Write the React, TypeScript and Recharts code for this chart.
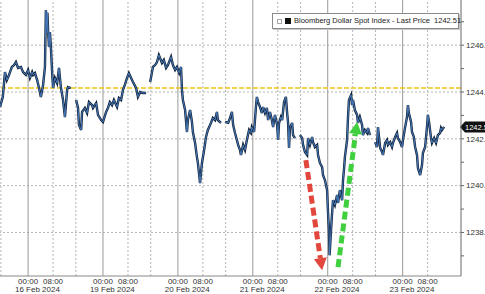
import { LineChart, Line, XAxis, YAxis, ReferenceLine, Legend } from "recharts"

// x = hours into the chart; every trading session is 24h wide and opens at 15:00 the day before
const hours = [
  0.0, 0.9, 1.6, 2.2, 2.9, 3.8, 4.5, 5.1, 5.8, 6.7, 7.4, 8.3, 9.0, 9.6, 10.3, 10.6, 11.2, 11.9, 12.5, 13.1,
  13.8, 14.4, 14.7, 15.1, 15.2, 15.4, 15.7, 16.0, 16.3, 16.7, 17.0, 17.6, 18.3, 18.9, 19.5, 20.2, 20.8, 21.5, 21.8, 22.7,
  23.5,
  24.4, 25.0, 25.3, 26.0, 26.3, 27.2, 27.9, 28.5, 29.5, 29.8, 30.8, 31.4, 32.4, 33.0, 34.0, 34.6, 35.2, 35.9, 36.5, 37.5,
  38.1, 38.8, 39.4, 40.0, 40.7, 41.3, 42.0, 42.6, 43.6, 44.2, 44.9, 45.8, 46.8,
  47.6,
  48.1, 48.7, 49.0, 49.7, 50.3, 50.9, 51.9, 52.5, 53.2, 53.8, 54.8, 55.4, 56.1, 56.7, 57.4, 58.0, 58.3, 58.6, 59.3, 59.9,
  60.2, 60.9, 61.5, 61.8, 62.5, 63.1, 63.4, 64.1, 64.7, 65.4, 66.0, 66.6, 67.6, 68.2, 68.9, 69.5, 69.8, 70.8,
  71.6,
  72.1, 73.1, 73.7, 74.3, 74.7, 75.3, 76.3, 76.9, 77.2, 77.9, 78.5, 79.1, 79.8, 80.4, 80.7, 81.4, 82.0, 82.3, 82.7, 83.3,
  83.9, 84.3, 84.9, 85.5, 85.9, 86.5, 87.1, 87.5, 88.1, 88.8, 89.1, 89.4, 90.0, 90.4, 91.0, 91.6, 92.0, 92.3, 92.6, 92.9,
  93.6, 93.9, 94.5,
  95.5,
  96.1, 96.8, 97.1, 97.7, 98.4, 98.7, 99.3, 100.0, 100.3, 100.9, 101.6, 101.9, 102.5, 103.2, 103.5, 104.1, 104.8, 105.1,
  105.4, 105.6, 106.1, 106.4, 106.7, 107.3, 108.0, 108.3, 108.9, 109.6, 109.9, 110.2, 110.5, 111.2, 111.5, 111.8, 112.5,
  112.8, 113.1, 113.7, 114.4, 114.7, 115.3, 116.0, 116.3, 116.9, 117.6, 117.9, 118.5,
  119.5,
  120.2, 120.8, 121.1, 121.8, 122.4, 122.7, 123.4, 124.0, 124.3, 125.0, 125.6, 125.9, 126.6, 127.2, 127.5, 128.2, 128.8,
  129.1, 129.8, 130.4, 130.7, 131.0, 131.7, 132.0, 132.6, 133.0, 133.6, 133.9, 134.6, 135.2, 135.5, 136.2, 136.8, 137.1,
  137.5, 138.1, 138.4, 139.1, 139.7, 140.3, 141.0, 141.3, 141.6, 142.3,
]

const prices = [
  1243.36, 1243.79, 1244.85, 1244.51, 1244.73, 1245.07, 1245.15, 1245.28, 1245.03, 1245.07, 1244.85, 1244.73, 1244.94,
  1244.6, 1244.85, 1244.73, 1244.81, 1244.51, 1244.17, 1243.79, 1244.3, 1245.07, 1247.5, 1246.52, 1247.38, 1246.65,
  1245.92, 1246.56, 1245.92, 1244.85, 1244.17, 1244.6, 1244.38, 1245.03, 1244.21, 1243.66, 1242.93, 1244.09, 1244.21,
  1244.17,
  null,
  1243.66, 1243.32, 1242.59, 1242.38, 1243.15, 1243.32, 1243.1, 1243.57, 1243.44, 1243.32, 1243.53, 1243.02, 1242.8,
  1242.72, 1243.15, 1243.32, 1243.57, 1243.44, 1243.66, 1243.36, 1243.74, 1243.66, 1244.09, 1244.3, 1244.6, 1244.81,
  1244.6, 1244.43, 1244.17, 1243.79, 1244.0, 1243.96, 1243.96,
  null,
  1244.43, 1244.85, 1245.07, 1245.15, 1245.28, 1245.58, 1245.24, 1245.37, 1245.03, 1245.15, 1245.5, 1245.15, 1244.94,
  1245.07, 1244.81, 1245.07, 1244.09, 1243.66, 1243.23, 1242.29, 1242.8, 1243.23, 1242.72, 1242.29, 1241.82, 1241.22,
  1240.97, 1240.11, 1240.97, 1241.52, 1242.08, 1242.38, 1242.68, 1242.89, 1242.8, 1243.15, 1242.8, 1242.68,
  null,
  1242.72, 1242.68, 1242.89, 1243.15, 1242.59, 1242.25, 1241.74, 1241.52, 1241.31, 1241.74, 1241.52, 1241.95, 1242.38,
  1242.25, 1242.5, 1242.29, 1243.36, 1243.79, 1243.57, 1243.36, 1243.1, 1243.36, 1243.1, 1243.32, 1242.8, 1243.15,
  1242.8, 1242.5, 1243.02, 1242.59, 1241.95, 1242.68, 1242.93, 1242.8, 1243.57, 1243.79, 1243.1, 1242.68, 1241.61,
  1242.46, 1242.68, 1242.16, 1242.03,
  null,
  1242.16, 1242.03, 1241.74, 1241.44, 1241.31, 1242.03, 1241.74, 1242.08, 1241.86, 1241.65, 1241.74, 1241.31, 1240.97,
  1240.79, 1240.45, 1240.24, 1239.81, 1238.83, 1238.1, 1237.03, 1238.19, 1238.83, 1239.38, 1239.17, 1239.6, 1239.26,
  1239.81, 1239.38, 1240.24, 1240.67, 1241.22, 1241.95, 1242.93, 1243.66, 1243.87, 1243.44, 1243.66, 1243.23, 1243.02,
  1242.68, 1242.93, 1242.59, 1242.16, 1242.38, 1242.25, 1242.46, 1242.16,
  null,
  1241.86, 1241.65, 1242.5, 1241.61, 1241.44, 1241.31, 1241.82, 1241.95, 1241.74, 1241.86, 1241.65, 1241.82, 1242.08,
  1242.25, 1242.03, 1241.86, 1241.65, 1241.95, 1242.5, 1242.93, 1243.44, 1243.1, 1242.72, 1242.29, 1242.08, 1241.65,
  1241.31, 1240.75, 1240.45, 1240.88, 1241.39, 1241.65, 1242.5, 1243.02, 1242.68, 1242.03, 1241.82, 1242.03, 1241.82,
  1242.16, 1242.25, 1242.46, 1242.38, 1242.51,
]

const dayLabels = ["16 Feb 2024", "19 Feb 2024", "20 Feb 2024", "21 Feb 2024", "22 Feb 2024", "23 Feb 2024"]
const timeLabels = ["00:00", "08:00"]
const priceTicks = [1237, 1238, 1239, 1240, 1241, 1242, 1243, 1244, 1245, 1246, 1247]
const gridPrices = [1238, 1240, 1242, 1244, 1246]
const lastPrice = 1242.51
const yellowLevel = 1244.17
const seriesName = "Bloomberg Dollar Spot Index - Last Price"

// annotation arrows (tail, tip) in chart units
const redArrow = [{ x: 98.0, y: 1241.09 }, { x: 103.2, y: 1236.39 }]
const greenArrow = [{ x: 108.3, y: 1236.52 }, { x: 114.4, y: 1242.72 }]

const SESSION = 24
const MIDNIGHT = 9 // 00:00 sits 9h after the session opens
const EIGHT_AM = 17
const X_MAX = 147.7

const FONT = "'Liberation Sans', Arial, sans-serif"

const data = hours.map((h, i) => ({ h, price: prices[i] }))
const separators = dayLabels.map((_, i) => i * SESSION)
const midnights = dayLabels.map((_, i) => i * SESSION + MIDNIGHT)
const mornings = dayLabels.map((_, i) => i * SESSION + EIGHT_AM)
const timeTicks = dayLabels.flatMap((_, i) => [i * SESSION + MIDNIGHT, i * SESSION + EIGHT_AM])
const dateTicks = dayLabels.map((_, i) => i * SESSION + 12)

function arrowShape(color: string) {
  return (p: any) => {
    const { x1, y1, x2, y2 } = p
    const dx = x2 - x1
    const dy = y2 - y1
    const len = Math.hypot(dx, dy)
    const ux = dx / len
    const uy = dy / len
    const head = 12
    const half = 6.5
    const bx = x2 - ux * head
    const by = y2 - uy * head
    return (
      <g>
        <line x1={x1} y1={y1} x2={bx} y2={by} stroke={color} strokeWidth={5} strokeDasharray="8 4" />
        <polygon
          points={`${x2},${y2} ${bx - uy * half},${by + ux * half} ${bx + uy * half},${by - ux * half}`}
          fill={color}
        />
      </g>
    )
  }
}

function LastPriceTag(props: any) {
  const { viewBox } = props
  const x = viewBox.x + viewBox.width
  const y = viewBox.y
  return (
    <g>
      <path d={`M${x - 1} ${y} L${x + 4} ${y - 5.5} L${x + 30} ${y - 5.5} L${x + 30} ${y + 5.5} L${x + 4} ${y + 5.5} Z`} fill="#111" />
      <text x={x + 4} y={y + 3} fontSize={7.5} fill="#fff" fontFamily={FONT}>
        {lastPrice.toFixed(2)}
      </text>
    </g>
  )
}

function LegendBox() {
  return (
    <div
      style={{
        boxSizing: "border-box",
        width: 187,
        height: 16,
        border: "1px solid #8a8a8a",
        background: "#fff",
        fontFamily: FONT,
        fontSize: 7.5,
        lineHeight: "14px",
        color: "#222",
        paddingLeft: 4,
        whiteSpace: "nowrap",
        textAlign: "left",
        boxShadow: "1px 1px 0 #c8c8c8",
      }}
    >
      <span style={{ display: "inline-block", width: 3, height: 3, border: "1px solid #aaa", marginRight: 3, verticalAlign: "middle" }} />
      <span style={{ display: "inline-block", width: 6, height: 6, background: "#111", marginRight: 3, verticalAlign: "middle" }} />
      <span style={{ verticalAlign: "middle" }}>{`${seriesName}\u00a0\u00a0${lastPrice.toFixed(2)}`}</span>
    </div>
  )
}

export default function App() {
  return (
    <div style={{ position: "absolute", left: 0, top: 0, background: "#fff" }}>
      <LineChart width={485} height={294} data={data} margin={{ top: 0, right: 0, bottom: 0, left: 0 }}>
        <XAxis
          xAxisId={0}
          dataKey="h"
          type="number"
          domain={[0, X_MAX]}
          allowDataOverflow
          ticks={timeTicks}
          tickFormatter={(v: number) => (v % SESSION === MIDNIGHT ? timeLabels[0] : timeLabels[1])}
          interval={0}
          height={9}
          tickLine={false}
          tickSize={0}
          tickMargin={2}
          axisLine={{ stroke: "#888" }}
          tick={{ fontSize: 8, fill: "#333", fontFamily: FONT }}
        />
        <XAxis
          xAxisId={1}
          dataKey="h"
          type="number"
          domain={[0, X_MAX]}
          allowDataOverflow
          ticks={dateTicks}
          tickFormatter={(v: number) => dayLabels[Math.floor(v / SESSION)]}
          interval={0}
          height={9}
          tickLine={false}
          tickSize={0}
          tickMargin={1}
          axisLine={false}
          tick={{ fontSize: 8, fill: "#333", fontFamily: FONT }}
        />
        <YAxis
          orientation="right"
          domain={[1236.14, 1247.93]}
          allowDataOverflow
          ticks={priceTicks}
          interval={0}
          width={24}
          tickSize={3}
          tickMargin={2}
          tickFormatter={(v: number) => (v % 2 === 0 ? v.toFixed(1) : "")}
          axisLine={{ stroke: "#666" }}
          tickLine={{ stroke: "#666" }}
          tick={{ fontSize: 8, fill: "#333", fontFamily: FONT, textAnchor: "start" }}
        />

        {gridPrices.map((p) => (
          <ReferenceLine key={`g${p}`} y={p} stroke="#b5b5b5" strokeDasharray="2 2" />
        ))}
        {separators.map((s) => (
          <ReferenceLine key={`s${s}`} x={s + 0.3} stroke="#b5b5b5" strokeDasharray="2 2" />
        ))}
        {midnights.map((m) => (
          <ReferenceLine key={`m${m}`} x={m} stroke="#9a9a9a" />
        ))}
        {mornings.map((m) => (
          <ReferenceLine key={`e${m}`} x={m} stroke="#b5b5b5" strokeDasharray="2 2" />
        ))}
        <ReferenceLine y={yellowLevel} stroke="#efc21a" strokeWidth={1.5} strokeDasharray="5 2" />

        <Line
          type="linear"
          dataKey="price"
          stroke="#13243b"
          strokeWidth={2.4}
          dot={false}
          activeDot={false}
          connectNulls={false}
          isAnimationActive={false}
        />
        <Line
          type="linear"
          dataKey="price"
          stroke="#4b80c4"
          strokeWidth={0.9}
          dot={false}
          activeDot={false}
          connectNulls={false}
          isAnimationActive={false}
        />

        <ReferenceLine segment={redArrow} ifOverflow="visible" shape={arrowShape("#e2473d")} />
        <ReferenceLine segment={greenArrow} ifOverflow="visible" shape={arrowShape("#3fcf3f")} />
        <ReferenceLine y={lastPrice} stroke="none" ifOverflow="visible" label={<LastPriceTag />} />

        <Legend
          layout="horizontal"
          verticalAlign="middle"
          align="center"
          wrapperStyle={{ top: 13, left: 272, width: 187 }}
          content={() => <LegendBox />}
        />
      </LineChart>
    </div>
  )
}
